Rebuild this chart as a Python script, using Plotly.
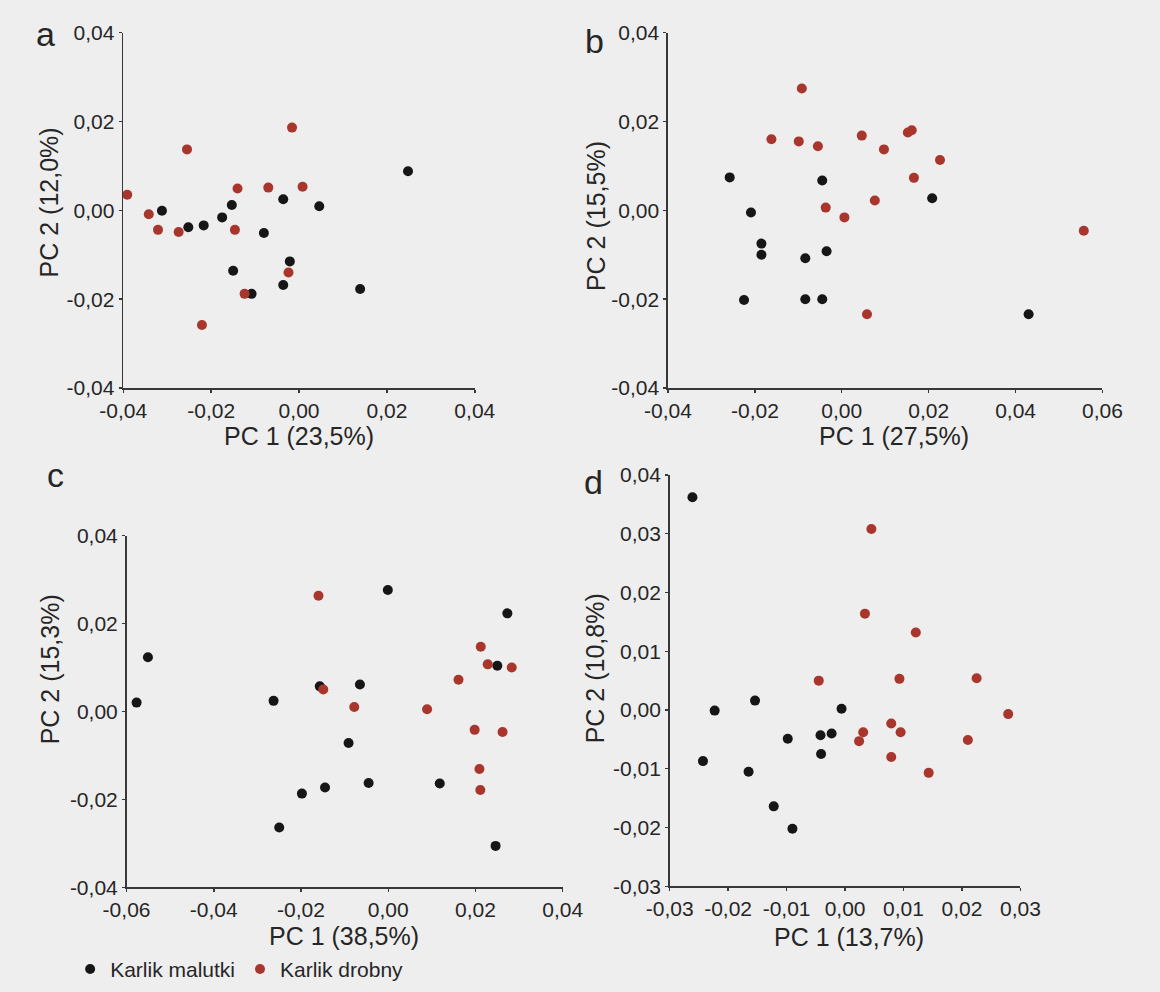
import plotly.graph_objects as go

W, H = 1160, 992

GROUPS = ["Karlik malutki", "Karlik drobny"]
COLORS = ["#161616", "#a8362c"]

# ---- panel a: PC1 (23,5%) vs PC2 (12,0%)
A_MAL_X = [-0.0312, -0.0252, -0.0217, -0.0175, -0.0153, -0.0150, -0.0108, -0.0080,
           -0.0036, -0.0021, -0.0036, 0.0046, 0.0139, 0.0248]
A_MAL_Y = [-0.0001, -0.0038, -0.0034, -0.0016, 0.0012, -0.0136, -0.0188, -0.0051,
           0.0025, -0.0115, -0.0168, 0.0009, -0.0177, 0.0088]
A_DRO_X = [-0.0391, -0.0342, -0.0321, -0.0274, -0.0255, -0.0221, -0.0140, -0.0146,
           -0.0124, -0.0070, -0.0016, 0.0008, -0.0024]
A_DRO_Y = [0.0035, -0.0009, -0.0044, -0.0049, 0.0137, -0.0258, 0.0049, -0.0044,
           -0.0188, 0.0051, 0.0186, 0.0053, -0.0140]

# ---- panel b: PC1 (27,5%) vs PC2 (15,5%)
B_MAL_X = [-0.0258, -0.0209, -0.0185, -0.0185, -0.0225, -0.0084, -0.0084, -0.0045,
           -0.0045, -0.0035, 0.0208, 0.0430]
B_MAL_Y = [0.0074, -0.0005, -0.0075, -0.0100, -0.0202, -0.0108, -0.0200, -0.0200,
           0.0067, -0.0092, 0.0027, -0.0234]
B_DRO_X = [-0.0092, -0.0162, -0.0099, -0.0055, 0.0046, 0.0097, 0.0152, 0.0161,
           0.0226, 0.0166, 0.0076, -0.0037, 0.0006, 0.0058, 0.0557]
B_DRO_Y = [0.0274, 0.0160, 0.0155, 0.0144, 0.0168, 0.0137, 0.0175, 0.0180,
           0.0113, 0.0073, 0.0022, 0.0006, -0.0016, -0.0234, -0.0046]

# ---- panel c: PC1 (38,5%) vs PC2 (15,3%)
C_MAL_X = [-0.0577, -0.0551, -0.0263, -0.0157, -0.0065, -0.0001, -0.0091, -0.0198,
           -0.0145, -0.0045, -0.0250, 0.0118, 0.0250, 0.0273, 0.0246]
C_MAL_Y = [0.0020, 0.0123, 0.0024, 0.0057, 0.0061, 0.0276, -0.0072, -0.0187,
           -0.0173, -0.0163, -0.0264, -0.0164, 0.0104, 0.0223, -0.0306]
C_DRO_X = [-0.0160, -0.0149, -0.0078, 0.0089, 0.0161, 0.0212, 0.0228, 0.0283,
           0.0198, 0.0262, 0.0209, 0.0211]
C_DRO_Y = [0.0263, 0.0050, 0.0010, 0.0005, 0.0072, 0.0147, 0.0107, 0.0100,
           -0.0042, -0.0047, -0.0131, -0.0179]

# ---- panel d: PC1 (13,7%) vs PC2 (10,8%)
D_MAL_X = [-0.0261, -0.0223, -0.0243, -0.0154, -0.0165, -0.0122, -0.0090, -0.0098,
           -0.0042, -0.0023, -0.0041, -0.0006]
D_MAL_Y = [0.0362, -0.0001, -0.0087, 0.0016, -0.0105, -0.0164, -0.0202, -0.0049,
           -0.0043, -0.0040, -0.0075, 0.0002]
D_DRO_X = [0.0045, 0.0034, 0.0121, -0.0045, 0.0093, 0.0225, 0.0279, 0.0079,
           0.0095, 0.0031, 0.0024, 0.0079, 0.0143, 0.0210]
D_DRO_Y = [0.0308, 0.0164, 0.0132, 0.0050, 0.0053, 0.0054, -0.0007, -0.0023,
           -0.0038, -0.0038, -0.0053, -0.0080, -0.0107, -0.0051]

# ---- ticks
T_04 = [-0.04, -0.02, 0.0, 0.02, 0.04]
L_04 = ["-0,04", "-0,02", "0,00", "0,02", "0,04"]
T_B_X = [-0.04, -0.02, 0.0, 0.02, 0.04, 0.06]
L_B_X = ["-0,04", "-0,02", "0,00", "0,02", "0,04", "0,06"]
T_C_X = [-0.06, -0.04, -0.02, 0.0, 0.02, 0.04]
L_C_X = ["-0,06", "-0,04", "-0,02", "0,00", "0,02", "0,04"]
T_D_X = [-0.03, -0.02, -0.01, 0.0, 0.01, 0.02, 0.03]
L_D_X = ["-0,03", "-0,02", "-0,01", "0,00", "0,01", "0,02", "0,03"]
T_D_Y = [-0.03, -0.02, -0.01, 0.0, 0.01, 0.02, 0.03, 0.04]
L_D_Y = ["-0,03", "-0,02", "-0,01", "0,00", "0,01", "0,02", "0,03", "0,04"]

PANEL_LETTERS = ["a", "b", "c", "d"]
X_TITLES = ["PC 1 (23,5%)", "PC 1 (27,5%)", "PC 1 (38,5%)", "PC 1 (13,7%)"]
Y_TITLES = ["PC 2 (12,0%)", "PC 2 (15,5%)", "PC 2 (15,3%)", "PC 2 (10,8%)"]

FONT = "Liberation Sans, Arial, sans-serif"
TXT = "#262626"
AX = "#383838"
BG = "#eeeeee"


def fx(p):
    return p / W


def fy(p):
    return 1 - p / H


panels = [
    dict(mal=(A_MAL_X, A_MAL_Y), dro=(A_DRO_X, A_DRO_Y),
         xr=[-0.04, 0.04], yr=[-0.04, 0.04], xt=(T_04, L_04), yt=(T_04, L_04),
         xd=[103.3, 469], yd=[385, 21],
         letter=(22, 23), xtitle=(286, 434), ytitle=(26, 195)),
    dict(mal=(B_MAL_X, B_MAL_Y), dro=(B_DRO_X, B_DRO_Y),
         xr=[-0.04, 0.06], yr=[-0.04, 0.04], xt=(T_B_X, L_B_X), yt=(T_04, L_04),
         xd=[670, 1122], yd=[385, 21],
         letter=(594, 30), xtitle=(905, 434), ytitle=(595, 209)),
    dict(mal=(C_MAL_X, C_MAL_Y), dro=(C_DRO_X, C_DRO_Y),
         xr=[-0.06, 0.04], yr=[-0.04, 0.04], xt=(T_C_X, L_C_X), yt=(T_04, L_04),
         xd=[106.7, 560.5], yd=[896, 536],
         letter=(33, 474), xtitle=(333, 946), ytitle=(27, 673)),
    dict(mal=(D_MAL_X, D_MAL_Y), dro=(D_DRO_X, D_DRO_Y),
         xr=[-0.03, 0.03], yr=[-0.03, 0.04], xt=(T_D_X, L_D_X), yt=(T_D_Y, L_D_Y),
         xd=[671.7, 1036.7], yd=[895, 474],
         letter=(593, 481), xtitle=(858, 947), ytitle=(595, 672)),
]

fig = go.Figure()
annotations = []
axis_common = dict(
    showline=True, linecolor=AX, linewidth=1.6, mirror=False,
    ticks="outside", ticklen=3, tickwidth=1.4, tickcolor=AX,
    showgrid=False, zeroline=False, fixedrange=True,
    tickfont=dict(family=FONT, size=21, color=TXT),
)

for i, p in enumerate(panels):
    n = "" if i == 0 else str(i + 1)
    for g, key in enumerate(["mal", "dro"]):
        xs, ys = p[key]
        fig.add_trace(go.Scatter(
            x=xs, y=ys, mode="markers", name=GROUPS[g],
            legendgroup=GROUPS[g], showlegend=(i == 0),
            marker=dict(size=10, color=COLORS[g], line=dict(width=0)),
            cliponaxis=False,
            xaxis="x" + n, yaxis="y" + n,
        ))
    fig.layout["xaxis" + n] = dict(
        axis_common, domain=[fx(p["xd"][0]), fx(p["xd"][1])],
        range=p["xr"], tickvals=p["xt"][0], ticktext=p["xt"][1],
        anchor="y" + n,
    )
    fig.layout["yaxis" + n] = dict(
        axis_common, domain=[fy(p["yd"][0]), fy(p["yd"][1])],
        range=p["yr"], tickvals=p["yt"][0], ticktext=p["yt"][1],
        anchor="x" + n,
    )
    lx, ly = p["letter"]
    annotations.append(dict(
        text=PANEL_LETTERS[i], x=fx(lx), y=fy(ly), xref="paper", yref="paper",
        xanchor="center", yanchor="middle", showarrow=False,
        font=dict(family=FONT, size=34, color=TXT)))
    tx, ty = p["xtitle"]
    annotations.append(dict(
        text=X_TITLES[i], x=fx(tx), y=fy(ty), xref="paper", yref="paper",
        xanchor="center", yanchor="middle", showarrow=False,
        font=dict(family=FONT, size=25, color=TXT)))
    yx, yy = p["ytitle"]
    annotations.append(dict(
        text=Y_TITLES[i], x=fx(yx), y=fy(yy), xref="paper", yref="paper",
        xanchor="center", yanchor="middle", showarrow=False, textangle=-90,
        font=dict(family=FONT, size=25, color=TXT)))

fig.update_layout(
    width=W, height=H,
    margin=dict(l=0, r=0, t=0, b=0),
    paper_bgcolor=BG, plot_bgcolor=BG,
    annotations=annotations,
    showlegend=True,
    hovermode=False,
    legend=dict(
        orientation="h", x=fx(48), y=fy(980), xanchor="left", yanchor="middle",
        bgcolor="rgba(0,0,0,0)", font=dict(family=FONT, size=21, color=TXT),
        itemwidth=30, tracegroupgap=0,
    ),
)

fig.write_html(
    "out.html",
    config={"displayModeBar": False, "staticPlot": True},
    post_script="document.body.style.margin='0';document.body.style.background='#eeeeee';",
)
